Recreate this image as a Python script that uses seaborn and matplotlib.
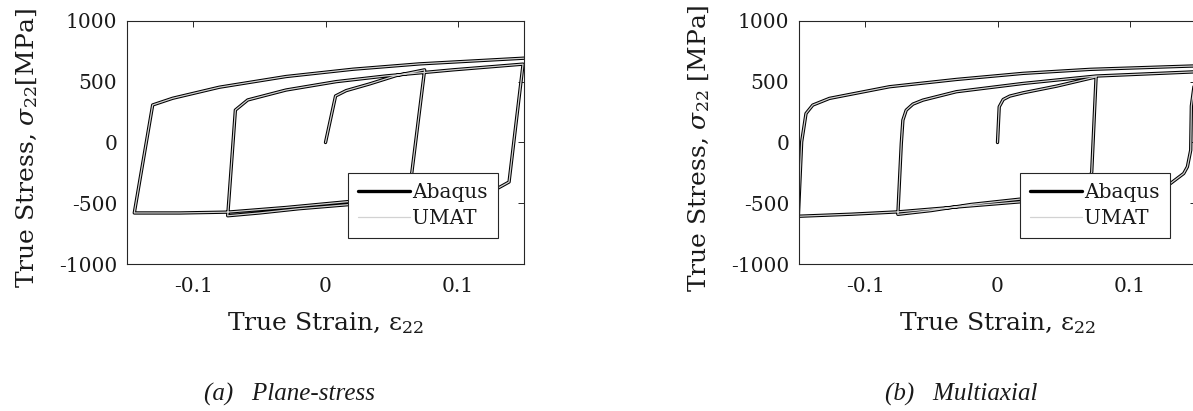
import numpy as np
import pandas as pd
import seaborn as sns
from matplotlib import pyplot as plt

# ---- data ----
# plane-stress loop (strain, stress MPa)
ps_strain = [0, 0.0076, 0.0156, 0.0333, 0.0535, 0.0749,
             0.0653, 0.0638, 0.055, 0.040, 0.0167, -0.020, -0.050, -0.0739,
             -0.0681, -0.0588, -0.0298, 0.0081, 0.0459, 0.0963, 0.1493,
             0.1387, 0.1296, 0.10, 0.06, 0.0167, -0.0300, -0.0739, -0.110, -0.1445,
             -0.1306, -0.1155, -0.0802, -0.0298, 0.0207, 0.0711, 0.15]
ps_stress = [0, 383, 427, 482, 551, 598,
             -242, -330, -430, -475, -512, -545, -580, -603,
             267, 350, 432, 501, 548, 598, 645,
             -325, -380, -430, -465, -487, -535, -573, -580, -580,
             309, 364, 455, 543, 603, 647, 694]

# multiaxial loop
ma_strain = [0, 0.0013, 0.0043, 0.0093, 0.0194, 0.0447, 0.0745,
             0.0712, 0.069, 0.062, 0.045, 0.0164, -0.020, -0.050, -0.0753,
             -0.0727, -0.0715, -0.069, -0.0639, -0.0563, -0.0311, 0.0194, 0.0745, 0.1457, 0.150,
             0.1465, 0.1460, 0.1435, 0.1407, 0.1306, 0.110, 0.070, 0.0164, -0.030, -0.0753, -0.110, -0.1505,
             -0.148, -0.1447, -0.1396, -0.127, -0.0816, -0.031, 0.0194, 0.070, 0.1457, 0.150]
ma_stress = [0, 294, 354, 382, 409, 464, 540,
             -242, -320, -390, -440, -467, -510, -560, -591,
             -8, 184, 266, 316, 349, 418, 486, 547, 580, 582,
             300, -63, -200, -255, -338, -400, -445, -489, -530, -571, -590, -607,
             5, 239, 308, 363, 459, 519, 569, 602, 629, 630]

models = ['Abaqus', 'UMAT']
model_colors = {'Abaqus': 'black', 'UMAT': '#d2d2d2'}
model_widths = {'Abaqus': 2.4, 'UMAT': 0.9}

x_ticks = [-0.1, 0, 0.1]
x_ticklabels = ['-0.1', '0', '0.1']
y_ticks = [-1000, -500, 0, 500, 1000]
y_ticklabels = ['-1000', '-500', '0', '500', '1000']

sns.set_style('white')
plt.rcParams['font.family'] = ['DejaVu Serif']
plt.rcParams['mathtext.fontset'] = 'dejavuserif'
plt.rcParams['axes.unicode_minus'] = False

txt = '#1a1a1a'
W, H = 1193, 411
fig = plt.figure(figsize=(W / 100, H / 100), dpi=100)
ax1 = fig.add_axes([127 / W, 1 - 264 / H, 397 / W, 243 / H])
ax2 = fig.add_axes([799 / W, 1 - 264 / H, 397 / W, 243 / H])


def draw(ax, strain, stress, ylab):
    for m in models:
        df = pd.DataFrame({'strain': strain, 'stress': stress})
        sns.lineplot(data=df, x='strain', y='stress', sort=False, estimator=None,
                     color=model_colors[m], lw=model_widths[m], label=m, ax=ax)
    ax.set_xlim(-0.15, 0.15)
    ax.set_ylim(-1000, 1000)
    ax.set_xticks(x_ticks)
    ax.set_xticklabels(x_ticklabels)
    ax.set_yticks(y_ticks)
    ax.set_yticklabels(y_ticklabels)
    ax.tick_params(direction='in', length=4, width=0.7, top=True, right=True,
                   labelsize=14.5, pad=7, colors='#262626', labelcolor=txt)
    ax.tick_params(axis='x', pad=9)
    for s in ax.spines.values():
        s.set_color('#262626')
        s.set_linewidth(0.8)
    ax.set_xlabel('True Strain, ε$_{22}$', fontsize=18, color=txt)
    ax.set_ylabel(ylab, fontsize=18, color=txt)
    ax.xaxis.set_label_coords(0.5, -0.19)
    ax.yaxis.set_label_coords(-0.22, 0.475)
    leg = ax.legend(loc='lower right', bbox_to_anchor=(0.9345, 0.107), borderaxespad=0,
                    fontsize=14.5, handlelength=2.6, handletextpad=0.12, labelspacing=0.35,
                    borderpad=0.5, fancybox=False, framealpha=1, edgecolor='#262626')
    leg.get_frame().set_linewidth(0.8)
    for t in leg.get_texts():
        t.set_color(txt)


draw(ax1, ps_strain, ps_stress, r'True Stress, $\sigma_{22}$[MPa]')
draw(ax2, ma_strain, ma_stress, r'True Stress, $\sigma_{22}$ [MPa]')

fig.text(290 / W, 1 - 394 / H, '(a)   Plane-stress', ha='center', va='center',
         fontsize=18, style='italic', family='Liberation Serif', color=txt)
fig.text(961 / W, 1 - 394 / H, '(b)   Multiaxial', ha='center', va='center',
         fontsize=18, style='italic', family='Liberation Serif', color=txt)

fig.savefig('out.png', dpi=100)
